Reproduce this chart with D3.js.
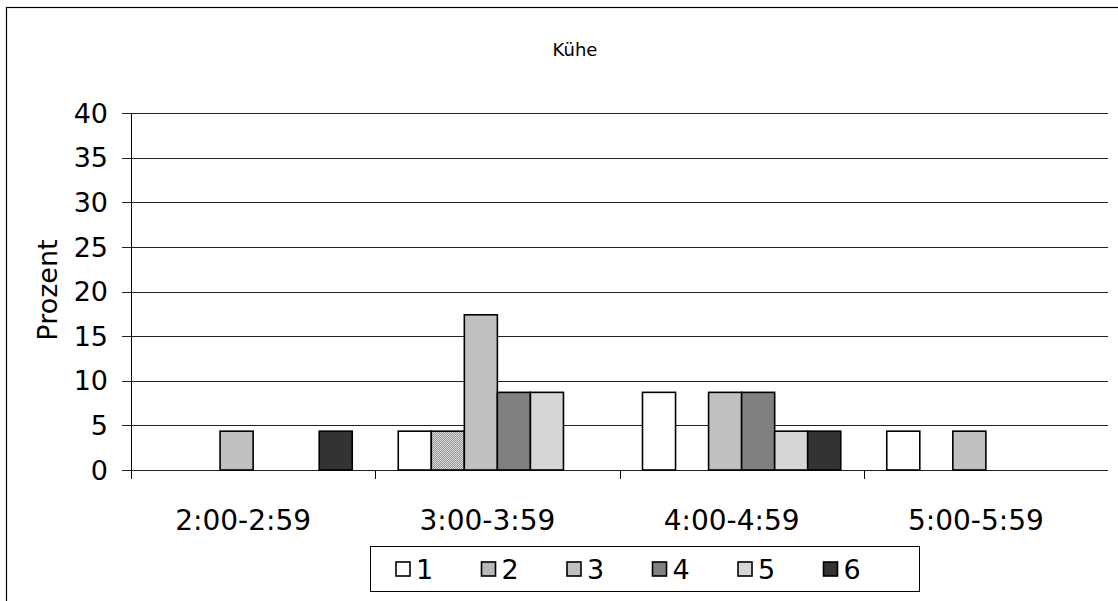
<!DOCTYPE html>
<html lang="de">
	<head>
		<meta charset="utf-8">
		<title>Kühe</title>
		<script src="https://d3js.org/d3.v7.min.js"></script>
		<style type="text/css">
			body { margin: 0; background: #fff; }
			text { font-family: "DejaVu Sans", Verdana, sans-serif; fill: #000; }
		</style>
	</head>
	<body>
		<script type="text/javascript">
			// data
			var categories = ["2:00-2:59", "3:00-3:59", "4:00-4:59", "5:00-5:59"];
			var seriesNames = ["1", "2", "3", "4", "5", "6"];
			var s1 = [0, 4.35, 8.7, 4.35];
			var s2 = [0, 4.35, 0, 0];
			var s3 = [4.35, 17.39, 8.7, 4.35];
			var s4 = [0, 8.7, 8.7, 0];
			var s5 = [0, 8.7, 4.35, 0];
			var s6 = [4.35, 0, 4.35, 0];
			var yTicks = [0, 5, 10, 15, 20, 25, 30, 35, 40];

			var seriesValues = [s1, s2, s3, s4, s5, s6];
			var fills = ["#ffffff", "url(#checker)", "#c0c0c0", "#808080", "#d6d6d6", "#333333"];

			var w = 1118, h = 601;
			var mLeft = 131, mRight = 1108, mTop = 113, mBottom = 470;

			var svg = d3.select("body")
						.append("svg")
						.attr("width", w)
						.attr("height", h);

			// checker pattern for series 2
			var pat = svg.append("defs").append("pattern")
				.attr("id", "checker")
				.attr("width", 2).attr("height", 2)
				.attr("patternUnits", "userSpaceOnUse");
			pat.append("rect").attr("width", 2).attr("height", 2).attr("fill", "#ffffff");
			pat.append("rect").attr("width", 1).attr("height", 1).attr("fill", "#707070");
			pat.append("rect").attr("x", 1).attr("y", 1).attr("width", 1).attr("height", 1).attr("fill", "#707070");

			// outer frame
			svg.append("rect")
				.attr("x", 6.5).attr("y", 7.5)
				.attr("width", 1130).attr("height", 620)
				.attr("fill", "none").attr("stroke", "#000").attr("stroke-width", 1.2);

			var x0 = d3.scaleBand().domain(categories).range([mLeft, mRight]).paddingInner(0).paddingOuter(0);
			var x1 = d3.scaleBand().domain(seriesNames).range([23, x0.bandwidth() - 23]);
			var y = d3.scaleLinear().domain([0, 40]).range([mBottom, mTop]);

			// gridlines
			svg.append("g").selectAll("line")
				.data(yTicks)
				.enter()
				.append("line")
				.attr("x1", mLeft - 9).attr("x2", mRight)
				.attr("y1", function(d){ return Math.round(y(d)) + 0.5; })
				.attr("y2", function(d){ return Math.round(y(d)) + 0.5; })
				.attr("stroke", "#222").attr("stroke-width", 1);

			// y axis labels
			svg.append("g").selectAll("text")
				.data(yTicks)
				.enter()
				.append("text")
				.attr("x", 108)
				.attr("y", function(d){ return y(d); })
				.attr("dy", "0.36em")
				.attr("text-anchor", "end")
				.style("font-size", "27px")
				.text(function(d){ return d; });

			// y axis line
			svg.append("line")
				.attr("x1", mLeft + 0.5).attr("x2", mLeft + 0.5)
				.attr("y1", mTop).attr("y2", mBottom + 9)
				.attr("stroke", "#000");

			// category ticks
			svg.append("g").selectAll("line")
				.data(categories.slice(1))
				.enter()
				.append("line")
				.attr("x1", function(d){ return Math.round(x0(d)) + 0.5; })
				.attr("x2", function(d){ return Math.round(x0(d)) + 0.5; })
				.attr("y1", mBottom).attr("y2", mBottom + 9)
				.attr("stroke", "#000");

			// category labels
			svg.append("g").selectAll("text")
				.data(categories)
				.enter()
				.append("text")
				.attr("x", function(d){ return x0(d) + x0.bandwidth() / 2 - 10; })
				.attr("y", 530)
				.attr("text-anchor", "middle")
				.style("font-size", "28px")
				.text(function(d){ return d; });

			// bars
			var groups = svg.append("g").selectAll("g")
				.data(categories)
				.enter()
				.append("g")
				.attr("transform", function(d){ return "translate(" + x0(d) + ",0)"; });

			groups.selectAll("rect")
				.data(function(d, ci){
					return seriesNames.map(function(s, si){ return {s: s, si: si, v: seriesValues[si][ci]}; });
				})
				.enter()
				.filter(function(d){ return d.v > 0; })
				.append("rect")
				.attr("x", function(d){ return x1(d.s); })
				.attr("y", function(d){ return y(d.v); })
				.attr("width", x1.bandwidth())
				.attr("height", function(d){ return mBottom - y(d.v); })
				.attr("fill", function(d){ return fills[d.si]; })
				.attr("stroke", "#000")
				.attr("stroke-width", 1.6);

			// title
			svg.append("text")
				.attr("x", 575).attr("y", 56)
				.attr("text-anchor", "middle")
				.style("font-size", "18px")
				.text("Kühe");

			// y axis title
			svg.append("text")
				.attr("transform", "translate(57,290) rotate(-90)")
				.attr("text-anchor", "middle")
				.style("font-size", "27px")
				.text("Prozent");

			// legend
			var lg = svg.append("g");
			lg.append("rect")
				.attr("x", 370.5).attr("y", 546.5)
				.attr("width", 549).attr("height", 45)
				.attr("fill", "#fff").attr("stroke", "#000");

			var items = lg.selectAll("g")
				.data(seriesNames)
				.enter()
				.append("g")
				.attr("transform", function(d, i){ return "translate(" + (396 + i * 85.5) + ",562)"; });
			items.append("rect")
				.attr("width", 14).attr("height", 14)
				.attr("fill", function(d, i){ return fills[i]; })
				.attr("stroke", "#000").attr("stroke-width", 1.6);
			items.append("text")
				.attr("x", 20).attr("y", 7)
				.attr("dy", "0.36em")
				.style("font-size", "27px")
				.text(function(d){ return d; });
		</script>
	</body>
</html>
